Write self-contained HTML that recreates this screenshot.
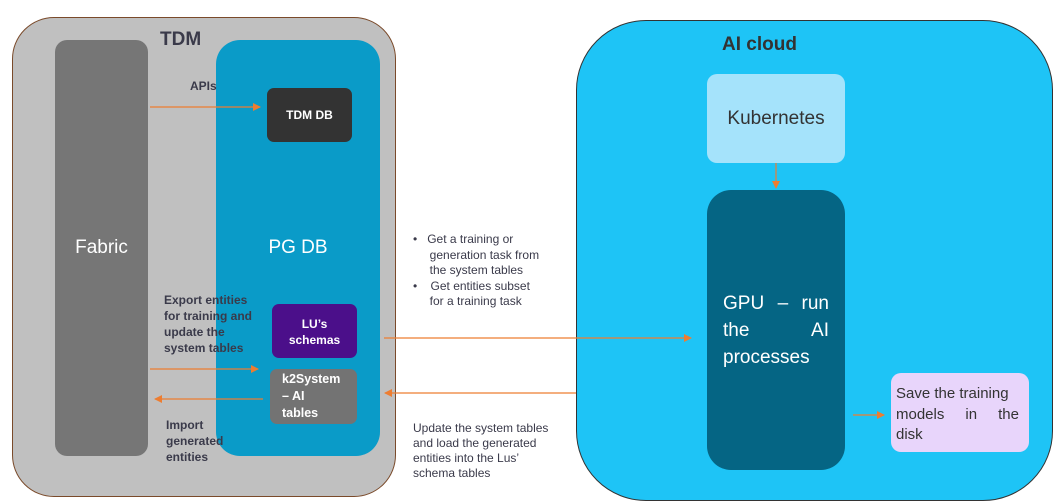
<!DOCTYPE html>
<html><head><style>
body{margin:0;width:1057px;height:502px;background:#fff;position:relative;overflow:hidden;font-family:"Liberation Sans",sans-serif}
div{position:absolute;box-sizing:border-box}
.t{color:#3a3a4a;font-size:12px;line-height:14.5px}
.b{font-weight:bold}
</style></head><body>
<div style="left:12px;top:17px;width:384px;height:480px;background:#c0c0c0;border:1px solid #7a4a2a;border-radius:42px"></div>
<div style="left:55px;top:40px;width:93px;height:416px;background:#767676;border-radius:12px"></div>
<div style="left:216px;top:40px;width:164px;height:416px;background:#0a9bc8;border-radius:24px"></div>
<div class="b" style="left:160px;top:29px;font-size:19px;color:#3a3a4a">TDM</div>
<div style="left:55px;top:237px;width:93px;text-align:center;color:#fff;font-size:19px">Fabric</div>
<div style="left:216px;top:237px;width:164px;text-align:center;color:#fff;font-size:19px">PG DB</div>
<div class="t b" style="left:190px;top:79px">APIs</div>
<div style="left:267px;top:88px;width:85px;height:54px;background:#333;border-radius:7px;color:#fff;font-weight:bold;font-size:12px;text-align:center;line-height:54px">TDM DB</div>
<div style="left:272px;top:304px;width:85px;height:54px;background:#4b0f8a;border-radius:7px;color:#fff;font-weight:bold;font-size:12px;text-align:center;padding-top:12px;line-height:16px">LU’s<br>schemas</div>
<div style="left:270px;top:369px;width:87px;height:55px;background:#737373;border-radius:7px;color:#fff;font-weight:bold;font-size:12.5px;padding:2px 0 0 12px;line-height:17px">k2System<br>– AI<br>tables</div>
<div class="t b" style="left:164px;top:292px;line-height:16px">Export entities<br>for training and<br>update the<br>system tables</div>
<div class="t b" style="left:166px;top:417px;line-height:16px">Import<br>generated<br>entities</div>
<div style="left:576px;top:20px;width:477px;height:481px;background:#1ec4f6;border:1px solid #333;border-radius:70px"></div>
<div class="b" style="left:722px;top:34px;font-size:19px;color:#333">AI cloud</div>
<div style="left:707px;top:74px;width:138px;height:89px;background:#a5e3fb;border-radius:10px;color:#333;font-size:19px;text-align:center;line-height:89px">Kubernetes</div>
<div style="left:707px;top:190px;width:138px;height:280px;background:#056584;border-radius:24px;color:#fff;font-size:19px;line-height:27px;padding:100px 16px 0 16px"><span style="display:flex;justify-content:space-between">GPU<span>–</span><span>run</span></span><span style="display:flex;justify-content:space-between">the<span>AI</span></span>processes</div>
<div style="left:891px;top:373px;width:138px;height:79px;background:#e8d5fb;border-radius:10px;color:#333;font-size:15px;line-height:20.5px;padding:11px 10px 0 5px"><span>Save the training</span><span style="display:flex;justify-content:space-between">models<span>in</span><span>the</span></span>disk</div>
<div class="t" style="left:413px;top:232px;line-height:15.5px">•&nbsp;&nbsp;&nbsp;Get a training or<br>&nbsp;&nbsp;&nbsp;&nbsp;&nbsp;generation task from<br>&nbsp;&nbsp;&nbsp;&nbsp;&nbsp;the system tables<br>•&nbsp;&nbsp;&nbsp;&nbsp;Get entities subset<br>&nbsp;&nbsp;&nbsp;&nbsp;&nbsp;for a training task</div>
<div class="t" style="left:413px;top:421px;line-height:15px">Update the system tables<br>and load the generated<br>entities into the Lus’<br>schema tables</div>
<svg width="1057" height="502" style="position:absolute;left:0;top:0">
<defs><marker id="a" markerWidth="8" markerHeight="8" refX="7" refY="4" orient="auto" markerUnits="userSpaceOnUse"><path d="M0,0L8,4L0,8Z" fill="#ed7d31"/></marker></defs>
<g stroke="#ed7d31" stroke-width="1.2" fill="none">
<line x1="150" y1="107" x2="260" y2="107" marker-end="url(#a)"/>
<line x1="150" y1="369" x2="258" y2="369" marker-end="url(#a)"/>
<line x1="263" y1="399" x2="155" y2="399" marker-end="url(#a)"/>
<line x1="384" y1="338" x2="691" y2="338" marker-end="url(#a)"/>
<line x1="576" y1="393" x2="385" y2="393" marker-end="url(#a)"/>
<line x1="776" y1="163" x2="776" y2="188" marker-end="url(#a)"/>
<line x1="853" y1="415" x2="884" y2="415" marker-end="url(#a)"/>
</g></svg>
</body></html>
